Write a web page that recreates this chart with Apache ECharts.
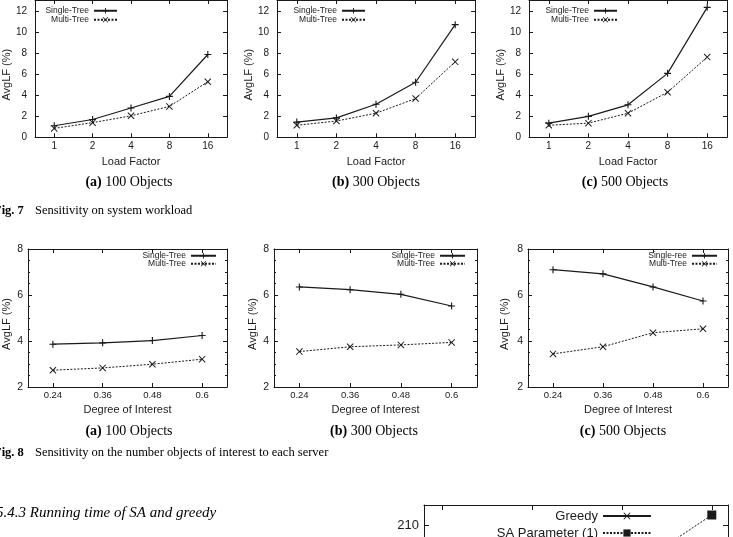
<!DOCTYPE html>
<html><head><meta charset="utf-8">
<script src="https://cdn.jsdelivr.net/npm/echarts@6/dist/echarts.min.js"></script>
<style>html,body{margin:0;padding:0;background:#fff;overflow:hidden;width:733px;height:537px}#c{width:733px;height:900px}</style>
</head><body><div id="c"></div>
<script>
// ---- data ----
const loadFactors = ['1', '2', '4', '8', '16'];
const interestDegrees = ['0.24', '0.36', '0.48', '0.6'];
const single100 = [1.1, 1.7, 2.8, 3.9, 7.9];
const multi100 = [0.85, 1.4, 2.05, 2.95, 5.3];
const single300 = [1.45, 1.85, 3.15, 5.25, 10.75];
const multi300 = [1.15, 1.55, 2.3, 3.7, 7.2];
const single500 = [1.35, 2.0, 3.1, 6.1, 12.4];
const multi500 = [1.15, 1.35, 2.3, 4.3, 7.65];
const singleI100 = [3.86, 3.92, 4.02, 4.24];
const multiI100 = [2.73, 2.83, 2.99, 3.21];
const singleI300 = [6.35, 6.23, 6.03, 5.52];
const multiI300 = [3.54, 3.75, 3.83, 3.94];
const singleI500 = [7.10, 6.92, 6.35, 5.74];
const multiI500 = [3.44, 3.75, 4.36, 4.53];
const saParamX = [2, 3];
const saParamY = [200, 212];
const greedyData = [];
const runTickValues = [0, 1, 2, 3];

// ---- style ----
const SANS = 'Liberation Sans';
const SERIF = 'Liberation Serif';
const INK = '#1a1a1a';
const PLUS = 'path://M-1,-0.16L1,-0.16L1,0.16L-1,0.16Z M-0.16,-1L0.16,-1L0.16,1L-0.16,1Z';
const CROSS = 'path://M-1,-0.8L-0.8,-1L1,0.8L0.8,1Z M-0.8,1L-1,0.8L0.8,-1L1,-0.8Z';

const grids = [], xAxes = [], yAxes = [], series = [], legends = [];

function addPanel(p) {
  const gi = grids.length;
  grids.push({left: p.left, top: p.top, width: p.width, height: p.height, containLabel: false});
  const tick = {show: true, inside: true, length: p.tickLen || 4, lineStyle: {color: INK, width: 1}};
  const line = {show: true, onZero: false, lineStyle: {color: INK, width: 1}};
  const xBase = p.xType === 'value'
    ? {type: 'value', min: p.xMin, max: p.xMax, axisTick: Object.assign({}, tick, {customValues: p.xTicks}), axisLabel: {show: false}}
    : {type: 'category', data: p.xCats, boundaryGap: true,
       axisTick: Object.assign({}, tick, {alignWithLabel: true, interval: 0})};
  xAxes.push(Object.assign({}, xBase, {
    gridIndex: gi, position: 'bottom', axisLine: line, splitLine: {show: false},
    axisLabel: p.xType === 'value' ? {show: false} : {show: true, interval: 0, margin: p.xLabelMargin, fontSize: p.tickFont, fontFamily: SANS, color: INK},
    name: p.xName, nameLocation: 'middle', nameGap: p.xNameGap,
    nameTextStyle: {fontSize: 11, fontFamily: SANS, color: INK}
  }));
  xAxes.push(Object.assign({}, xBase, {
    gridIndex: gi, position: 'top', axisLine: line, splitLine: {show: false},
    axisLabel: {show: false}
  }));
  const yBase = {type: 'value', min: p.yMin, max: p.yMax, interval: p.yInterval,
    axisTick: tick, splitLine: {show: false}, axisLine: line,
    minorTick: p.minor ? {show: true, splitNumber: 4, length: 2, lineStyle: {color: INK}} : {show: false},
    minorSplitLine: {show: false}};
  yAxes.push(Object.assign({}, yBase, {
    gridIndex: gi, position: 'left',
    axisLabel: {show: true, margin: p.yLabelMargin, fontSize: p.yTickFont || p.tickFont, fontFamily: SANS, color: INK, showMaxLabel: p.showMax === true},
    name: p.yName, nameLocation: 'middle', nameGap: p.yNameGap,
    nameTextStyle: {fontSize: 11, fontFamily: SANS, color: INK, padding: p.yName ? [0, 12, 0, 0] : 0}
  }));
  yAxes.push(Object.assign({}, yBase, {
    gridIndex: gi, position: 'right', axisLabel: {show: false}
  }));
  return gi;
}

function lineSeries(gi, name, data, kind) {
  const solid = kind === 'single';
  series.push({
    type: 'line', name: name, xAxisIndex: gi * 2, yAxisIndex: gi * 2, data: data,
    symbol: kind === 'single' ? PLUS : CROSS,
    symbolSize: 7,
    showAllSymbol: true, animation: false, silent: true,
    lineStyle: {color: INK, width: solid ? 1.2 : 1, type: solid ? 'solid' : [2, 1.5]},
    itemStyle: {color: INK},
    z: 3
  });
}

function addLegend(name, right, top, itemWidth, fontSize) {
  legends.push({
    data: [name], right: right, top: top, orient: 'vertical', align: 'right',
    itemWidth: itemWidth, itemHeight: 7, padding: 0, selectedMode: false,
    textStyle: {fontSize: fontSize, fontFamily: SANS, color: INK, lineHeight: fontSize + 1}
  });
}

// ---- Fig. 7 : load factor ----
const topPanels = [
  {left: 30, width: 197, s: single100, m: multi100, yNameGap: 16, legRight: 615},
  {left: 277, width: 198, s: single300, m: multi300, yNameGap: 16, legRight: 367},
  {left: 529, width: 198, s: single500, m: multi500, yNameGap: 16, legRight: 115}
];
topPanels.forEach(tp => {
  const gi = addPanel({
    left: tp.left, top: -1, width: tp.width, height: 138.3,
    xCats: loadFactors, xName: 'Load Factor', xNameGap: 19, xLabelMargin: 4,
    yMin: 0, yMax: 13.1, yInterval: 2, yName: 'AvgLF (%)', yNameGap: tp.yNameGap,
    yLabelMargin: 8, tickFont: 10
  });
  lineSeries(gi, 'Single-Tree', tp.s, 'single');
  lineSeries(gi, 'Multi-Tree', tp.m, 'multi');
  addLegend('Single-Tree', tp.legRight, 6, 23, 8.5);
  addLegend('Multi-Tree', tp.legRight, 15, 23, 8.5);
});

// ---- Fig. 8 : degree of interest ----
const botPanels = [
  {left: 26, width: 201, s: singleI100, m: multiI100, sName: 'Single-Tree', yNameGap: 16, legRight: 516},
  {left: 274, width: 203, s: singleI300, m: multiI300, sName: 'Single-Tree', yNameGap: 16, legRight: 267},
  {left: 528, width: 200, s: singleI500, m: multiI500, sName: 'Single-ree', yNameGap: 18, legRight: 15}
];
botPanels.forEach(bp => {
  const gi = addPanel({
    left: bp.left, top: 249, width: bp.width, height: 138,
    xCats: interestDegrees, xName: 'Degree of Interest', xNameGap: 17, xLabelMargin: 3,
    yMin: 2, yMax: 8, yInterval: 2, showMax: true, yName: 'AvgLF (%)', yNameGap: bp.yNameGap,
    yLabelMargin: 5, tickFont: 9.5, yTickFont: 10.5, minor: true
  });
  lineSeries(gi, bp.sName, bp.s, 'single');
  lineSeries(gi, 'Multi-Tree', bp.m, 'multi');
  addLegend(bp.sName, bp.legRight, 251, 25, 8.5);
  addLegend('Multi-Tree', bp.legRight, 259, 25, 8.5);
});

// ---- running time chart (cut off by the page edge) ----
const rg = addPanel({
  left: 424, top: 505, width: 304, height: 320,
  xType: 'value', xMin: -0.2, xMax: 3.18, xTicks: runTickValues,
  yMin: 150, yMax: 214, yInterval: 10, yLabelMargin: 5, tickFont: 13, tickLen: 5
});
series.push({
  type: 'line', name: 'Greedy', xAxisIndex: rg * 2, yAxisIndex: rg * 2, data: greedyData,
  symbol: CROSS, symbolSize: 9, animation: false,
  lineStyle: {color: INK, width: 1.2}, itemStyle: {color: INK}
});
series.push({
  type: 'line', name: 'SA Parameter (1)', xAxisIndex: rg * 2, yAxisIndex: rg * 2,
  data: saParamX.map((x, i) => [x, saParamY[i]]),
  symbol: 'rect', symbolSize: 9, animation: false,
  lineStyle: {color: INK, width: 1, type: [2, 1.5]}, itemStyle: {color: INK}
});
legends.push({data: ['Greedy'], right: 81, top: 508, align: 'right', orient: 'vertical',
  itemWidth: 48, itemHeight: 9, padding: 0, selectedMode: false,
  textStyle: {fontSize: 13, fontFamily: SANS, color: INK, lineHeight: 16}});
legends.push({data: ['SA Parameter (1)'], right: 81, top: 525, align: 'right', orient: 'vertical',
  itemWidth: 48, itemHeight: 9, padding: 0, selectedMode: false,
  textStyle: {fontSize: 13, fontFamily: SANS, color: INK, lineHeight: 16}});

// ---- captions ----
function caption(x, y, letter, rest) {
  return {type: 'text', x: x, y: y, silent: true, style: {
    text: '{b|' + letter + '} ' + rest, fontSize: 14, fontFamily: SERIF, fill: '#000',
    align: 'center', verticalAlign: 'middle',
    rich: {b: {fontWeight: 'bold', fontSize: 14, fontFamily: SERIF, fill: '#000'}}
  }};
}
function plain(x, y, text, opts) {
  return {type: 'text', x: x, y: y, silent: true, style: Object.assign({
    text: text, fontSize: 12.5, fontFamily: SERIF, fill: '#000', align: 'left', verticalAlign: 'middle'
  }, opts || {})};
}
const graphics = [
  caption(129, 182, '(a)', '100 Objects'),
  caption(376, 182, '(b)', '300 Objects'),
  caption(625, 182, '(c)', '500 Objects'),
  plain(-6, 211, 'Fig. 7', {fontWeight: 'bold'}),
  plain(35, 211, 'Sensitivity on system workload'),
  caption(129, 431, '(a)', '100 Objects'),
  caption(374, 431, '(b)', '300 Objects'),
  caption(623, 431, '(c)', '500 Objects'),
  plain(-6, 453, 'Fig. 8', {fontWeight: 'bold'}),
  plain(35, 453, 'Sensitivity on the number objects of interest to each server'),
  plain(-4, 513, '5.4.3 Running time of SA and greedy', {fontStyle: 'italic', fontSize: 15})
];

const chart = echarts.init(document.getElementById('c'), null, {renderer: 'canvas'});
chart.setOption({
  animation: false,
  backgroundColor: '#fff',
  grid: grids, xAxis: xAxes, yAxis: yAxes, series: series, legend: legends,
  graphic: graphics
});
</script>
</body></html>
